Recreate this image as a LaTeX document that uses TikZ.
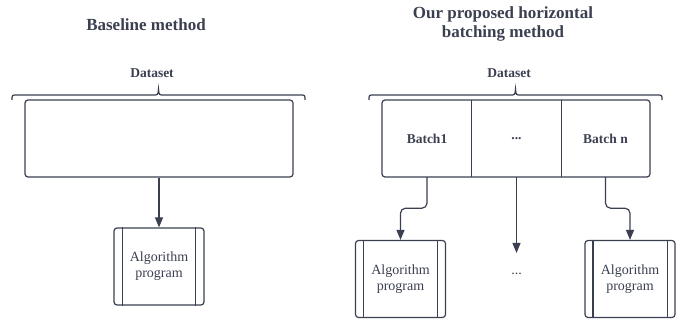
\documentclass[tikz,border=0pt]{standalone}
\usepackage{fontspec}
\setmainfont{Liberation Serif}
\usetikzlibrary{arrows.meta,calc}
\definecolor{ink}{HTML}{3B4050}
\begin{document}
\begin{tikzpicture}[x=1pt,y=-1pt,
 line/.style={draw=ink,line width=1.2pt},
 title/.style={font=\fontsize{17}{19}\selectfont\bfseries,text=ink,align=center,inner sep=0pt},
 lbl/.style={font=\fontsize{13.5}{16}\selectfont\bfseries,text=ink,inner sep=0pt},
 databox/.style={line,rounded corners=3pt,minimum width=268pt,minimum height=77pt,inner sep=0pt},
 cell/.style={minimum width=89.3pt,minimum height=77pt,inner sep=0pt,font=\fontsize{13.5}{16}\selectfont\bfseries,text=ink},
 algo/.style={line,rounded corners=3pt,minimum width=90pt,minimum height=77pt,inner sep=0pt,align=center,font=\fontsize{14}{16}\selectfont,text=ink},
 arr/.style={line,-{Triangle[length=10pt,width=8pt]},rounded corners=5pt}
]
\useasboundingbox (0,0) rectangle (688,323);

% ---------- left: baseline ----------
\node[title] (t1) at (146,25) {Baseline method};
\node[lbl] (ds1) at (152,73) {Dataset};
\draw[line] (12,100) .. controls (12,95) .. (17,95) -- (153,95)
  .. controls (158,95) .. (158.5,89) .. controls (159,95) .. (164,95)
  -- (300,95) .. controls (305,95) .. (305,100);
\node[databox] (d1) at (159,138.5) {};
\node[algo] (a1) at (159,266.5) {Algorithm\\program};
\draw[line] ($(a1.north west)+(9,0)$) -- ($(a1.south west)+(9,0)$);
\draw[line] ($(a1.north east)+(-9,0)$) -- ($(a1.south east)+(-9,0)$);
\draw[arr] (d1.south) -- (a1.north);

% ---------- right: horizontal batching ----------
\node[title] (t2) at (503,23.5) {Our proposed horizontal\\batching method};
\node[lbl] (ds2) at (509,73) {Dataset};
\draw[line] (369,100) .. controls (369,95) .. (374,95) -- (510,95)
  .. controls (515,95) .. (515.5,89) .. controls (516,95) .. (521,95)
  -- (657,95) .. controls (662,95) .. (662,100);
\node[databox] (d2) at (516,138.5) {};
\node[cell] (c1) at (427,138.5) {Batch1};
\node[cell] (c2) at (516.5,138.5) {...};
\node[cell] (c3) at (605.5,138.5) {Batch n};
\draw[line] (c1.north east) -- (c1.south east);
\draw[line] (c2.north east) -- (c2.south east);

\node[algo] (a2) at (400.5,279) {Algorithm\\program};
\draw[line] ($(a2.north west)+(8.5,0)$) -- ($(a2.south west)+(8.5,0)$);
\draw[line] ($(a2.north east)+(-8.5,0)$) -- ($(a2.south east)+(-8.5,0)$);
\node[algo] (a3) at (630,279) {Algorithm\\program};
\draw[line] ($(a3.north west)+(8.5,0)$) -- ($(a3.south west)+(8.5,0)$);
\draw[line] ($(a3.north east)+(-8.5,0)$) -- ($(a3.south east)+(-8.5,0)$);
\node[font=\fontsize{14}{16}\selectfont,text=ink] (dots) at (516.5,274) {...};
\coordinate (mid) at (516.5,253);

\draw[arr] (c1.south) -- ($(c1.south)+(0,31)$) -| (a2.north);
\draw[arr] (c2.south) -- (mid);
\draw[arr] (c3.south) -- ($(c3.south)+(0,31)$) -| (a3.north);
\end{tikzpicture}
\end{document}
